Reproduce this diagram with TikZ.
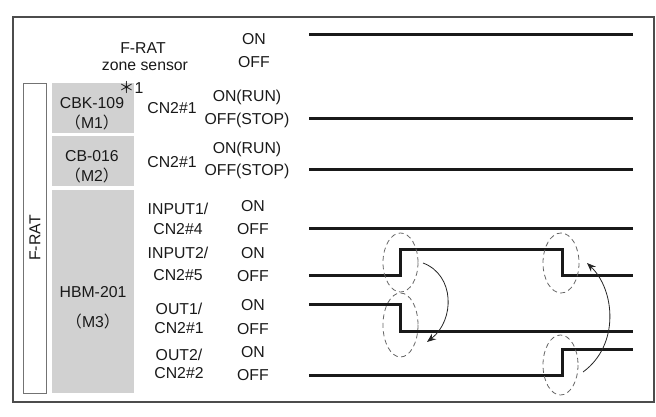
\documentclass[tikz,border=0pt]{standalone}
\usepackage{fontspec}
\setmainfont{Liberation Sans}
\newfontfamily\cjk{Noto Sans CJK JP}
\usetikzlibrary{arrows.meta}
\begin{document}
\begin{tikzpicture}[x=1pt,y=-1pt,
  lbl/.style={inner sep=0pt, text=black!90, font=\fontsize{15.8}{18}\selectfont},
  wave/.style={line width=3pt, black!90},
  grayblk/.style={fill=black!18, draw=none},
  sel/.style={draw=black!60, dash pattern=on 5pt off 3.5pt, line width=0.8pt},
  cause/.style={-{Stealth[length=9pt,width=7pt]}, line width=0.8pt, black!85}]
\useasboundingbox (0,0) rectangle (656,417);
\draw[black!70, line width=1.6pt] (13,17) rectangle (654,402);
% side label box
\draw[black!55, line width=0.7pt] (23,83) rectangle (46,393);
\node[lbl, rotate=90] (frat) at (35,238) {F-RAT};
% gray blocks
\fill[grayblk] (52,83) rectangle (134,133);
\fill[grayblk] (52,136) rectangle (134,186);
\fill[grayblk] (52,190) rectangle (134,393);
% header
\node[lbl] (hdr1) at (143,48) {F-RAT};
\node[lbl] (hdr2) at (145,66) {zone sensor};
\node[lbl] (on0) at (254,39) {ON};
\node[lbl] (off0) at (254,62) {OFF};
\node[lbl] (note) at (131,87) {{\cjk ＊}1};
% M1
\node[lbl] (m1a) at (92,103) {CBK-109};
\node[lbl] (m1b) at (92,122) {{\cjk （}M1{\cjk ）}};
\node[lbl] (m1c) at (172,108) {CN2\#1};
\node[lbl] (on1) at (247,97) {ON(RUN)};
\node[lbl] (off1) at (247,120) {OFF(STOP)};
% M2
\node[lbl] (m2a) at (92,156) {CB-016};
\node[lbl] (m2b) at (92,175) {{\cjk （}M2{\cjk ）}};
\node[lbl] (m2c) at (172,162) {CN2\#1};
\node[lbl] (on2) at (247,149) {ON(RUN)};
\node[lbl] (off2) at (247,171) {OFF(STOP)};
% M3
\node[lbl] (m3a) at (93,292) {HBM-201};
\node[lbl] (m3b) at (93,321) {{\cjk （}M3{\cjk ）}};
\node[lbl] (i1a) at (178,209) {INPUT1/};
\node[lbl] (i1b) at (178,229) {CN2\#4};
\node[lbl] (on3) at (253,206) {ON};
\node[lbl] (off3) at (253,229) {OFF};
\node[lbl] (i2a) at (178,253) {INPUT2/};
\node[lbl] (i2b) at (178,275) {CN2\#5};
\node[lbl] (on4) at (253,253) {ON};
\node[lbl] (off4) at (253,276) {OFF};
\node[lbl] (o1a) at (179,309) {OUT1/};
\node[lbl] (o1b) at (179,328) {CN2\#1};
\node[lbl] (on5) at (253,305) {ON};
\node[lbl] (off5) at (253,329) {OFF};
\node[lbl] (o2a) at (179,355) {OUT2/};
\node[lbl] (o2b) at (179,373) {CN2\#2};
\node[lbl] (on6) at (253,352) {ON};
\node[lbl] (off6) at (253,375) {OFF};
% waveforms
\draw[wave] (309,35) -- (633,35);
\draw[wave] (309,119) -- (633,119);
\draw[wave] (309,170) -- (633,170);
\draw[wave] (309,228) -- (633,228);
\draw[wave] (309,275) -- (400,275) -- (400,249) -- (562,249) -- (562,275) -- (633,275);
\draw[wave] (309,304) -- (400,304) -- (400,331) -- (633,331);
\draw[wave] (309,375) -- (562,375) -- (562,349) -- (633,349);
% dashed selection ellipses
\draw[sel] (400.5,262.5) ellipse [x radius=17.5, y radius=29.5];
\draw[sel] (400.5,325) ellipse [x radius=17.5, y radius=32];
\draw[sel] (561,263) ellipse [x radius=18, y radius=30];
\draw[sel] (560.5,365) ellipse [x radius=17.5, y radius=30];
% cause arrows
\coordinate (a1s) at (423,263);
\coordinate (a1e) at (427,342);
\coordinate (a2s) at (583,372);
\coordinate (a2e) at (587,263);
\draw[cause] (a1s) .. controls (455,275) and (455,320) .. (a1e);
\draw[cause] (a2s) .. controls (620,345) and (615,290) .. (a2e);
\end{tikzpicture}
\end{document}
